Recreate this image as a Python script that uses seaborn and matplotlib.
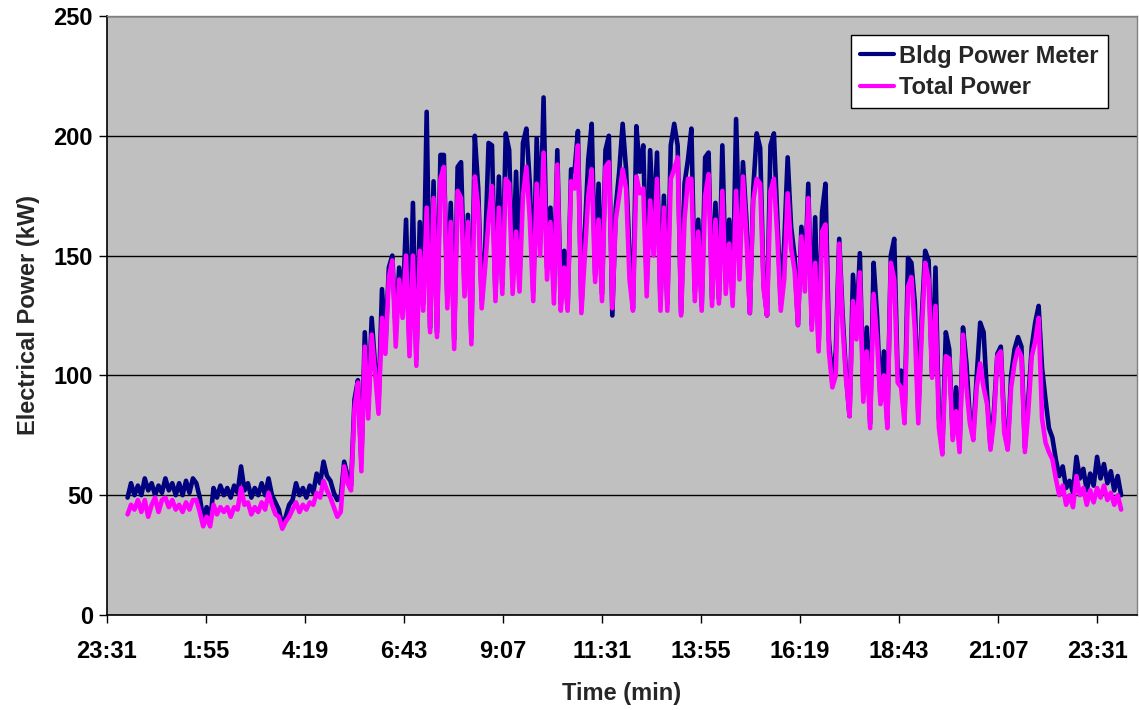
import numpy as np
import pandas as pd
import matplotlib
matplotlib.use("Agg")
import matplotlib.pyplot as plt
import seaborn as sns

# Five-minute samples, minutes elapsed since 23:31
start_min = 30
step_min = 5

# Building power meter reading (kW)
bldg_power = [
    49, 55, 50, 54, 50, 57, 52, 55, 50, 54,
    51, 57, 52, 55, 50, 55, 50, 56, 51, 57,
    55, 49, 40, 45, 39, 53, 49, 54, 50, 53,
    49, 54, 51, 62, 52, 55, 49, 53, 50, 55,
    50, 57, 50, 47, 44, 37, 41, 46, 48, 55,
    50, 53, 49, 54, 51, 59, 55, 64, 58, 56,
    51, 48, 49, 64, 58, 54, 90, 98, 64, 118,
    86, 124, 104, 88, 136, 113, 145, 150, 118, 145,
    128, 165, 112, 172, 107, 164, 130, 210, 120, 181,
    118, 192, 192, 132, 172, 115, 187, 189, 137, 167,
    116, 200, 178, 131, 152, 197, 196, 133, 183, 138,
    201, 194, 138, 185, 140, 197, 203, 180, 135, 199,
    160, 216, 145, 170, 135, 194, 130, 152, 128, 186,
    185, 202, 128, 160, 190, 205, 142, 180, 134, 194,
    200, 125, 170, 185, 205, 186, 150, 128, 204, 185,
    196, 138, 194, 160, 193, 130, 175, 130, 196, 205,
    196, 126, 180, 190, 203, 135, 165, 129, 191, 193,
    132, 172, 132, 196, 140, 165, 132, 207, 153, 189,
    165, 126, 178, 201, 195, 138, 125, 196, 201, 165,
    130, 155, 191, 162, 150, 121, 162, 140, 180, 121,
    166, 112, 168, 180, 115, 97, 110, 157, 125, 100,
    83, 142, 120, 151, 92, 120, 80, 147, 125, 90,
    110, 80, 150, 157, 100, 102, 82, 149, 147, 130,
    84, 124, 152, 148, 100, 145, 82, 70, 118, 111,
    75, 95, 70, 120, 105, 82, 76, 100, 122, 118,
    92, 70, 85, 109, 112, 80, 70, 100, 111, 116,
    112, 70, 90, 112, 122, 129, 103, 90, 78, 74,
    65, 58, 62, 53, 56, 51, 66, 57, 61, 52,
    59, 54, 66, 57, 63, 55, 60, 52, 58, 50,
]

# Sum of the metered sub-loads (kW)
total_power = [
    42, 46, 44, 48, 43, 48, 41, 46, 49, 43,
    48, 49, 45, 48, 44, 46, 43, 47, 44, 48,
    48, 43, 37, 41, 37, 46, 42, 45, 43, 45,
    41, 45, 44, 53, 46, 47, 42, 45, 43, 47,
    44, 51, 46, 42, 41, 36, 39, 41, 44, 47,
    43, 46, 44, 47, 46, 51, 49, 56, 52, 49,
    45, 41, 43, 62, 55, 52, 86, 97, 60, 112,
    82, 117, 101, 84, 124, 109, 141, 148, 112, 140,
    124, 150, 108, 150, 104, 152, 127, 170, 118, 174,
    116, 182, 187, 128, 164, 111, 177, 174, 133, 164,
    113, 183, 170, 128, 145, 165, 179, 131, 170, 134,
    182, 180, 134, 160, 135, 175, 187, 165, 131, 180,
    150, 193, 140, 164, 130, 188, 127, 145, 127, 181,
    178, 196, 126, 150, 175, 186, 139, 165, 131, 187,
    189, 128, 165, 175, 186, 178, 140, 127, 183, 176,
    178, 133, 173, 150, 182, 127, 170, 127, 182, 186,
    191, 125, 165, 182, 182, 131, 160, 127, 175, 184,
    129, 165, 130, 177, 134, 155, 129, 177, 140, 183,
    158, 126, 173, 182, 180, 136, 125, 177, 182, 158,
    127, 140, 176, 153, 144, 121, 158, 135, 174, 119,
    147, 110, 160, 163, 110, 95, 100, 155, 120, 98,
    83, 131, 115, 143, 89, 110, 78, 134, 115, 88,
    100, 78, 147, 140, 97, 95, 80, 137, 141, 119,
    80, 118, 147, 140, 99, 129, 78, 67, 108, 107,
    73, 85, 68, 117, 95, 80, 73, 95, 105, 95,
    88, 69, 81, 108, 110, 76, 69, 95, 105, 111,
    108, 68, 85, 108, 114, 124, 82, 72, 68, 65,
    57, 50, 54, 46, 50, 45, 58, 50, 53, 46,
    52, 47, 53, 49, 54, 48, 51, 46, 50, 44,
]

tick_minutes = [0, 144, 288, 432, 576, 720, 864, 1008, 1152, 1296, 1440]
tick_labels = ["23:31", "1:55", "4:19", "6:43", "9:07", "11:31",
               "13:55", "16:19", "18:43", "21:07", "23:31"]
y_ticks = [0, 50, 100, 150, 200, 250]

minutes = start_min + step_min * np.arange(len(total_power))
df = pd.DataFrame({
    "Time (min)": np.concatenate([minutes, minutes]),
    "Electrical Power (kW)": bldg_power + total_power,
    "Series": ["Bldg Power Meter"] * len(bldg_power) + ["Total Power"] * len(total_power),
})

sns.set_style("ticks")
plt.rcParams["font.family"] = ["Liberation Sans", "DejaVu Sans"]
plt.rcParams["font.weight"] = "bold"

fig = plt.figure(figsize=(11.39, 7.10), dpi=100)
ax = fig.add_axes([0.0939, 0.1338, 0.9043, 0.8437])
ax.set_facecolor("#C0C0C0")

sns.lineplot(
    data=df, x="Time (min)", y="Electrical Power (kW)", hue="Series",
    palette={"Bldg Power Meter": "#000080", "Total Power": "#FF00FF"},
    linewidth=3.3, ax=ax, estimator=None, sort=False, zorder=3,
)

ax.set_xlim(0, 1498)
ax.set_ylim(0, 250)
ax.set_yticks(y_ticks)
ax.set_xticks(tick_minutes)
ax.set_xticklabels(tick_labels)
ax.yaxis.grid(True, color="black", linewidth=1.0)
ax.set_axisbelow(True)

for side in ["left", "bottom"]:
    ax.spines[side].set_color("black")
    ax.spines[side].set_linewidth(1.2)
for side in ["top", "right"]:
    ax.spines[side].set_visible(True)
    ax.spines[side].set_color("#808080")
    ax.spines[side].set_linewidth(1.0)

ax.tick_params(axis="both", direction="out", length=6, width=1.0,
               labelsize=17, colors="black")
ax.tick_params(axis="x", pad=12)
ax.tick_params(axis="y", pad=4)
for lbl in ax.get_xticklabels() + ax.get_yticklabels():
    lbl.set_fontweight("bold")

ax.set_xlabel("Time (min)", fontsize=17, fontweight="bold", labelpad=14)
ax.set_ylabel("Electrical Power (kW)", fontsize=17, fontweight="bold", labelpad=10)

leg = ax.legend(loc="upper right", bbox_to_anchor=(0.972, 0.968), frameon=True,
                fancybox=False, edgecolor="black", facecolor="white", framealpha=1,
                fontsize=17, handlelength=1.45, handletextpad=0.2,
                borderpad=0.4, labelspacing=0.35, borderaxespad=0)
leg.get_frame().set_linewidth(1.0)
for txt in leg.get_texts():
    txt.set_fontweight("bold")
for line in leg.get_lines():
    line.set_linewidth(3.0)

fig.savefig("out.png", dpi=100)
